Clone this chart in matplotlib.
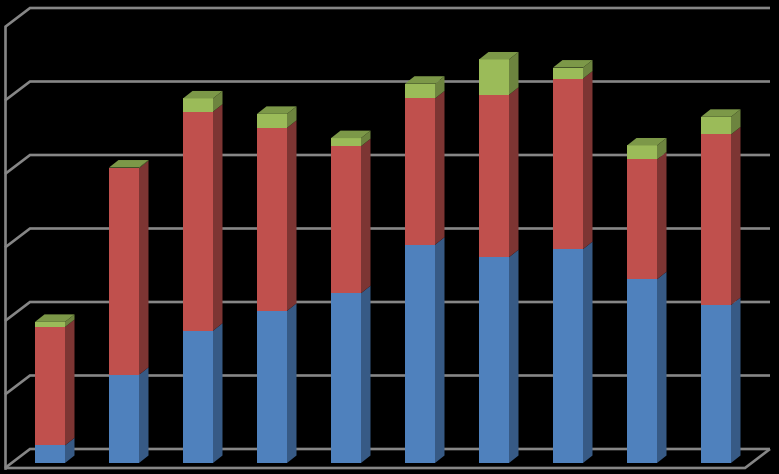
import matplotlib
matplotlib.use("Agg")
import matplotlib.pyplot as plt
from matplotlib.patches import Polygon

blue = [24, 120, 180, 207, 231, 297, 280, 291, 250, 215]
red = [161, 281, 298, 249, 200, 199, 221, 232, 163, 232]
green = [7, 1, 18, 19, 11, 20, 48, 15, 19, 24]
grid_levels = [0, 100, 200, 300, 400, 500, 600]

series = [
    (blue, "#4F81BD", "#375A85", "#3F6797"),
    (red, "#C0504D", "#7D3533", "#9A403E"),
    (green, "#9BBB59", "#6D843F", "#7C9848"),
]

W, H = 779, 474
PX_X = 74.0
PX_Y = 0.735
bar_w = 30 / PX_X
depth_x = 9.5 / PX_X
depth_y = 7.5 / PX_Y
wall_dx = 25 / PX_X
wall_dy = 19 / PX_Y
back_y0 = 14 / PX_Y
left = (5 - 50) / PX_X
right_back = (770 - 50) / PX_X
GRID = "#868686"

fig = plt.figure(figsize=(W / 100, H / 100), dpi=100, facecolor="black")
ax = fig.add_axes([0, 0, 1, 1], facecolor="black")
ax.set_xlim(-50 / PX_X, (W - 50) / PX_X)
ax.set_ylim(-(H - 463) / PX_Y, 463 / PX_Y)
ax.axis("off")

lw = 1.9
for lev in grid_levels:
    y = back_y0 + lev
    ax.plot([left, left + wall_dx, right_back], [y - wall_dy, y, y],
            color=GRID, lw=lw, solid_joinstyle="miter", solid_capstyle="butt", zorder=1)
top = back_y0 + grid_levels[-1]
bottom = back_y0 - wall_dy
ax.plot([left, left], [bottom, top - wall_dy], color=GRID, lw=lw, zorder=1)
ax.plot([left, right_back - wall_dx, right_back], [bottom, bottom, back_y0],
        color=GRID, lw=lw, solid_joinstyle="miter", solid_capstyle="butt", zorder=1)

for i in range(len(blue)):
    x0 = i - bar_w / 2
    x1 = i + bar_w / 2
    base = 0
    for values, front, side, topc in series:
        t = base + values[i]
        ax.add_patch(Polygon([(x1, base), (x1 + depth_x, base + depth_y),
                              (x1 + depth_x, t + depth_y), (x1, t)],
                             fc=side, ec="none", zorder=3))
        ax.add_patch(Polygon([(x0, base), (x1, base), (x1, t), (x0, t)],
                             fc=front, ec="none", zorder=4))
        base = t
    ax.add_patch(Polygon([(x0, base), (x1, base), (x1 + depth_x, base + depth_y),
                          (x0 + depth_x, base + depth_y)],
                         fc=series[-1][3], ec="none", zorder=4))

fig.savefig("out.png", dpi=100, facecolor="black")
